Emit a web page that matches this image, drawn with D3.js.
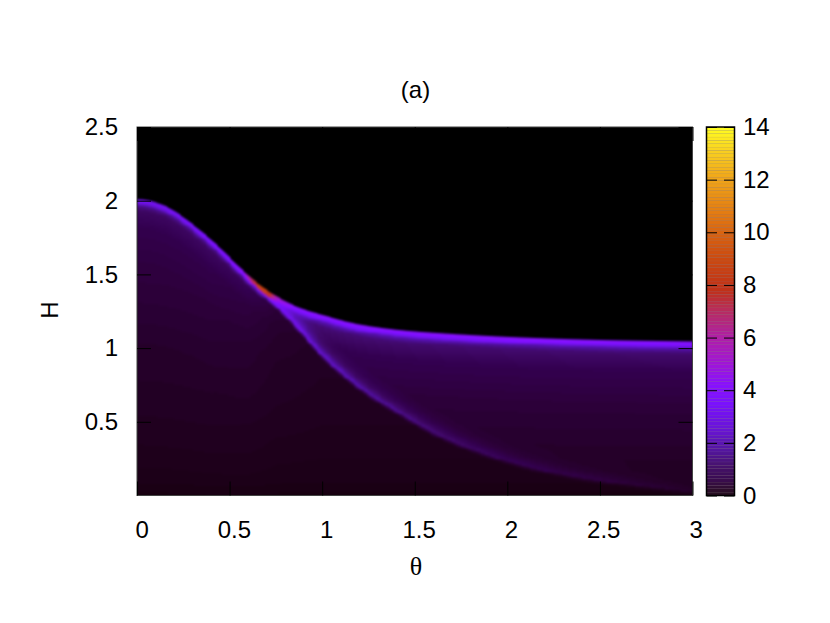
<!DOCTYPE html>
<html><head><meta charset="utf-8">
<script src="https://cdn.jsdelivr.net/npm/d3@7"></script>
<style>html,body{margin:0;padding:0;background:#fff}svg{display:block}
text{font-family:"Liberation Sans",Arial,sans-serif;font-size:24px;fill:#000}</style>
</head><body><div id="c"></div>
<script>
// Values
const xTicks = [0,0.5,1,1.5,2,2.5,3];
const yTicks = [0.5,1,1.5,2,2.5];
const cbTicks = [0,2,4,6,8,10,12,14];
const title = "(a)", xLabel = "θ", yLabel = "H";

// upper edge of the populated region
const edgeTheta = [0,.05,.097,.16,.232,.34,.449,.557,.665,.773,.881,1.03,1.13,1.24,1.42,1.65,2.02,2.5,3];
const edgeH     = [2.01,2.005,1.99,1.96,1.905,1.80,1.68,1.545,1.427,1.338,1.272,1.215,1.18,1.152,1.122,1.10,1.075,1.055,1.045];
// sharp ridge along the upper edge
const peakTheta = [0,.3,.5,.58,.62,.66,.71,.76,.85,1,2,3];
const peakValue = [2.0,2.3,2.9,3.6,6.4,7.6,7.2,3.9,2.8,2.8,2.9,2.8];
const nearH     = [0,.012,.028,.05,.08];
const nearFrac  = [1,.98,.85,.2,0];
// slow tail under the ridge
const tailH     = [0,.05,.08,.2,.45,1,2.1];
const tailFrac  = [.3,.3,.27,.13,.07,.03,0];
const tailTheta = [0,.4,.6,.75,1,3];
const tailBelow = [2.2,2.2,1.6,.5,0,0];
const tailWedge = [3,3,3,3.2,3.5,3.5];
// lower crease
const creaseTheta = [.65,.72,.8,.88,.99,1.097,1.24,1.42,1.6,1.78,2.02,2.32,2.68,3];
const creaseH     = [1.435,1.33,1.23,1.122,.965,.84,.70,.56,.43,.33,.227,.138,.07,.023];
const creaseValue = [1.4,2.2,2.4,2.2,1.9,1.7,1.4,1.15,.95,.75,.55,.42,.3,.2];
const creaseUpH   = [0,.012,.03,.06,.1,.16];
const creaseUpF   = [1,.85,.6,.3,.12,0];
const creaseDnH   = [0,.012,.03];
const creaseDnF   = [1,.45,0];
// background level versus H
const baseH = [0,.1,.3,.6,1,1.5,2.1];
const baseV = [0,.08,.14,.2,.25,.35,.4];
// palette
const palV = [0,.2,.5,.7,1.1,1.7,2.5,3.5,4.2,5,6,7,7.8,9,10,11,12,13,14];
const palC = ["#180010","#20001f","#2e003e","#330050","#400868","#500fa0","#6812d8","#7a10ff","#8810ff","#a015d8","#b01ea8","#b82c60","#c03018","#cc4a10","#d96410","#e68412","#f0a418","#f8cc20","#ffff20"];

const W=830,H=623;
const x=d3.scaleLinear().domain([0,3]).range([137,692.5]);
const y=d3.scaleLinear().domain([0,2.5]).range([495.5,127]);
const cb=d3.scaleLinear().domain([0,14]).range([495.5,127]);
const color=d3.scaleLinear().domain(palV).range(palC).interpolate(d3.interpolateRgb);

const lin=(a,b)=>d3.scaleLinear().domain(a).range(b).clamp(true);
// smooth curve through read-off knots (cubic Hermite with finite-difference tangents)
function smooth(xs,ys){
  const m=xs.map((_,i)=>{const a=Math.max(i-1,0),b=Math.min(i+1,xs.length-1);return (ys[b]-ys[a])/(xs[b]-xs[a]);});
  return t=>{
    if(t<=xs[0])return ys[0]; if(t>=xs[xs.length-1])return ys[ys.length-1];
    const i=d3.bisectRight(xs,t)-1,h=xs[i+1]-xs[i],s=(t-xs[i])/h;
    const s2=s*s,s3=s2*s;
    return (2*s3-3*s2+1)*ys[i]+(s3-2*s2+s)*h*m[i]+(-2*s3+3*s2)*ys[i+1]+(s3-s2)*h*m[i+1];
  };
}
const fEdge=smooth(edgeTheta,edgeH), fPeak=lin(peakTheta,peakValue), fNear=lin(nearH,nearFrac), fTail=lin(tailH,tailFrac);
const fBelow=lin(tailTheta,tailBelow), fWedge=lin(tailTheta,tailWedge);
const fCrease=smooth(creaseTheta,creaseH), fCreaseV=lin(creaseTheta,creaseValue);
const fUp=lin(creaseUpH,creaseUpF), fDn=lin(creaseDnH,creaseDnF), fBase=lin(baseH,baseV);

function cell(t,h){
  const hu=fEdge(t);
  if(h>hu) return null;
  const depth=hu-h;
  let v=fBase(h)+fPeak(t)*fNear(depth);
  if(t>=creaseTheta[0]){
    const d=h-fCrease(t);
    if(d>=0) v+=fWedge(t)*fTail(depth)+fCreaseV(t)*fUp(d)*(1-fNear(depth));
    else     v+=fBelow(t)*fTail(depth)+fCreaseV(t)*fDn(-d);
  } else v+=fBelow(t)*fTail(depth);
  return v;
}

const svg=d3.select("#c").append("svg").attr("width",W).attr("height",H);
const defs=svg.append("defs");
defs.append("clipPath").attr("id","plot").append("rect").attr("x",x(0)).attr("y",y(2.5)).attr("width",x(3)-x(0)).attr("height",y(0)-y(2.5));
defs.append("filter").attr("id","soft").attr("filterUnits","userSpaceOnUse").attr("x",120).attr("y",110).attr("width",590).attr("height",400)
  .attr("color-interpolation-filters","sRGB").append("feGaussianBlur").attr("stdDeviation",0.8);
svg.append("rect").attr("x",x(0)).attr("y",y(2.5)).attr("width",x(3)-x(0)).attr("height",y(0)-y(2.5)).attr("fill","#000");

// heat map: run-length merged cells per column; the top run of a column ends on the edge curve
const dT=0.01, dH=0.0125, cells=[];
d3.range(0,3,dT).forEach(t=>{
  let run=null;
  d3.range(0,2.1,dH).forEach(h=>{
    const v=cell(t+dT/2,h+dH/2);
    const q=v==null?null:Math.round(v*20)/20;
    if(run && run.q===q) run.h1=h+dH;
    else { if(run&&run.q!=null) cells.push(run); run={t,h0:h,h1:h+dH,q}; }
    if(q!=null && h+dH+dH/2>fEdge(t+dT/2)){ run.top=true; run.h1=fEdge(t+dT/2); }
  });
  if(run&&run.q!=null) cells.push(run);
});
svg.append("g").attr("clip-path","url(#plot)").append("g").attr("filter","url(#soft)")
  .selectAll("rect").data(cells).join("rect")
  .attr("x",d=>Math.round(x(d.t)))
  .attr("width",d=>Math.round(x(d.t+dT))-Math.round(x(d.t)))
  .attr("y",d=>d.top?y(d.h1):Math.round(y(d.h1)))
  .attr("height",d=>Math.round(y(d.h0))-(d.top?y(d.h1):Math.round(y(d.h1))))
  .attr("fill",d=>color(d.q));

// plot frame and axes (ticks point inward on all four sides)
svg.append("rect").attr("x",x(0)).attr("y",y(2.5)).attr("width",x(3)-x(0)).attr("height",y(0)-y(2.5))
  .attr("fill","none").attr("stroke","#444").attr("stroke-width",1);
const fmt=d3.format("~g"), ticklen=14;
const ax=(sel,call)=>{const g=sel.call(call);g.select(".domain").remove();g.selectAll("line").attr("stroke","#000").attr("stroke-width",1);g.selectAll("text").style("font-size","24px");return g;};
ax(svg.append("g").attr("transform",`translate(0,${y(0)})`),d3.axisBottom(x).tickValues(xTicks).tickFormat(fmt).tickSizeInner(-ticklen).tickSizeOuter(0).tickPadding(25.5))
  .selectAll("text").attr("dx",(d,i)=>4.6-i*0.25);
ax(svg.append("g").attr("transform",`translate(${x(0)},0)`),d3.axisLeft(y).tickValues(yTicks).tickFormat(fmt).tickSizeInner(-ticklen).tickSizeOuter(0).tickPadding(19));
ax(svg.append("g").attr("transform",`translate(${x(3)},0)`),d3.axisRight(y).tickValues(yTicks).tickFormat("").tickSizeInner(-ticklen).tickSizeOuter(0));
ax(svg.append("g").attr("transform",`translate(0,${y(2.5)})`),d3.axisTop(x).tickValues(xTicks).tickFormat("").tickSizeInner(-ticklen).tickSizeOuter(0));

// colour bar
const bx0=706.5,bx1=734.5,levels=d3.range(110);
const lh=(cb(0)-cb(14))/levels.length;
svg.append("rect").attr("x",bx0).attr("y",cb(14)).attr("width",bx1-bx0).attr("height",cb(0)-cb(14)).attr("fill","#8a7a80");
svg.append("g").selectAll("rect").data(levels).join("rect")
  .attr("x",bx0).attr("width",bx1-bx0)
  .attr("y",i=>cb(14*(i+1)/levels.length)+0.08)
  .attr("height",lh-0.16)
  .attr("fill",i=>{const v=14*(i+.5)/levels.length;return d3.interpolateRgb(color(v),"#8a8088")(Math.max(0,.12*(1-v/3)));});
svg.append("rect").attr("x",bx0).attr("y",cb(14)).attr("width",bx1-bx0).attr("height",cb(0)-cb(14))
  .attr("fill","none").attr("stroke","#000").attr("stroke-width",1.5);
ax(svg.append("g").attr("transform",`translate(${bx1},0)`),d3.axisRight(cb).tickValues(cbTicks).tickFormat(fmt).tickSizeInner(-10.5).tickSizeOuter(0).tickPadding(8.5));
ax(svg.append("g").attr("transform",`translate(${bx0},0)`),d3.axisLeft(cb).tickValues(cbTicks).tickFormat("").tickSizeInner(-10.5).tickSizeOuter(0));

// labels
svg.append("text").attr("x",415.5).attr("y",98).attr("text-anchor","middle").text(title);
svg.append("text").attr("x",416).attr("y",575).attr("text-anchor","middle").style("font-family","'Liberation Serif',serif").style("font-size","26px").text(xLabel);
svg.append("text").attr("transform","translate(58,310) rotate(-90)").attr("text-anchor","middle").text(yLabel);
</script></body></html>
